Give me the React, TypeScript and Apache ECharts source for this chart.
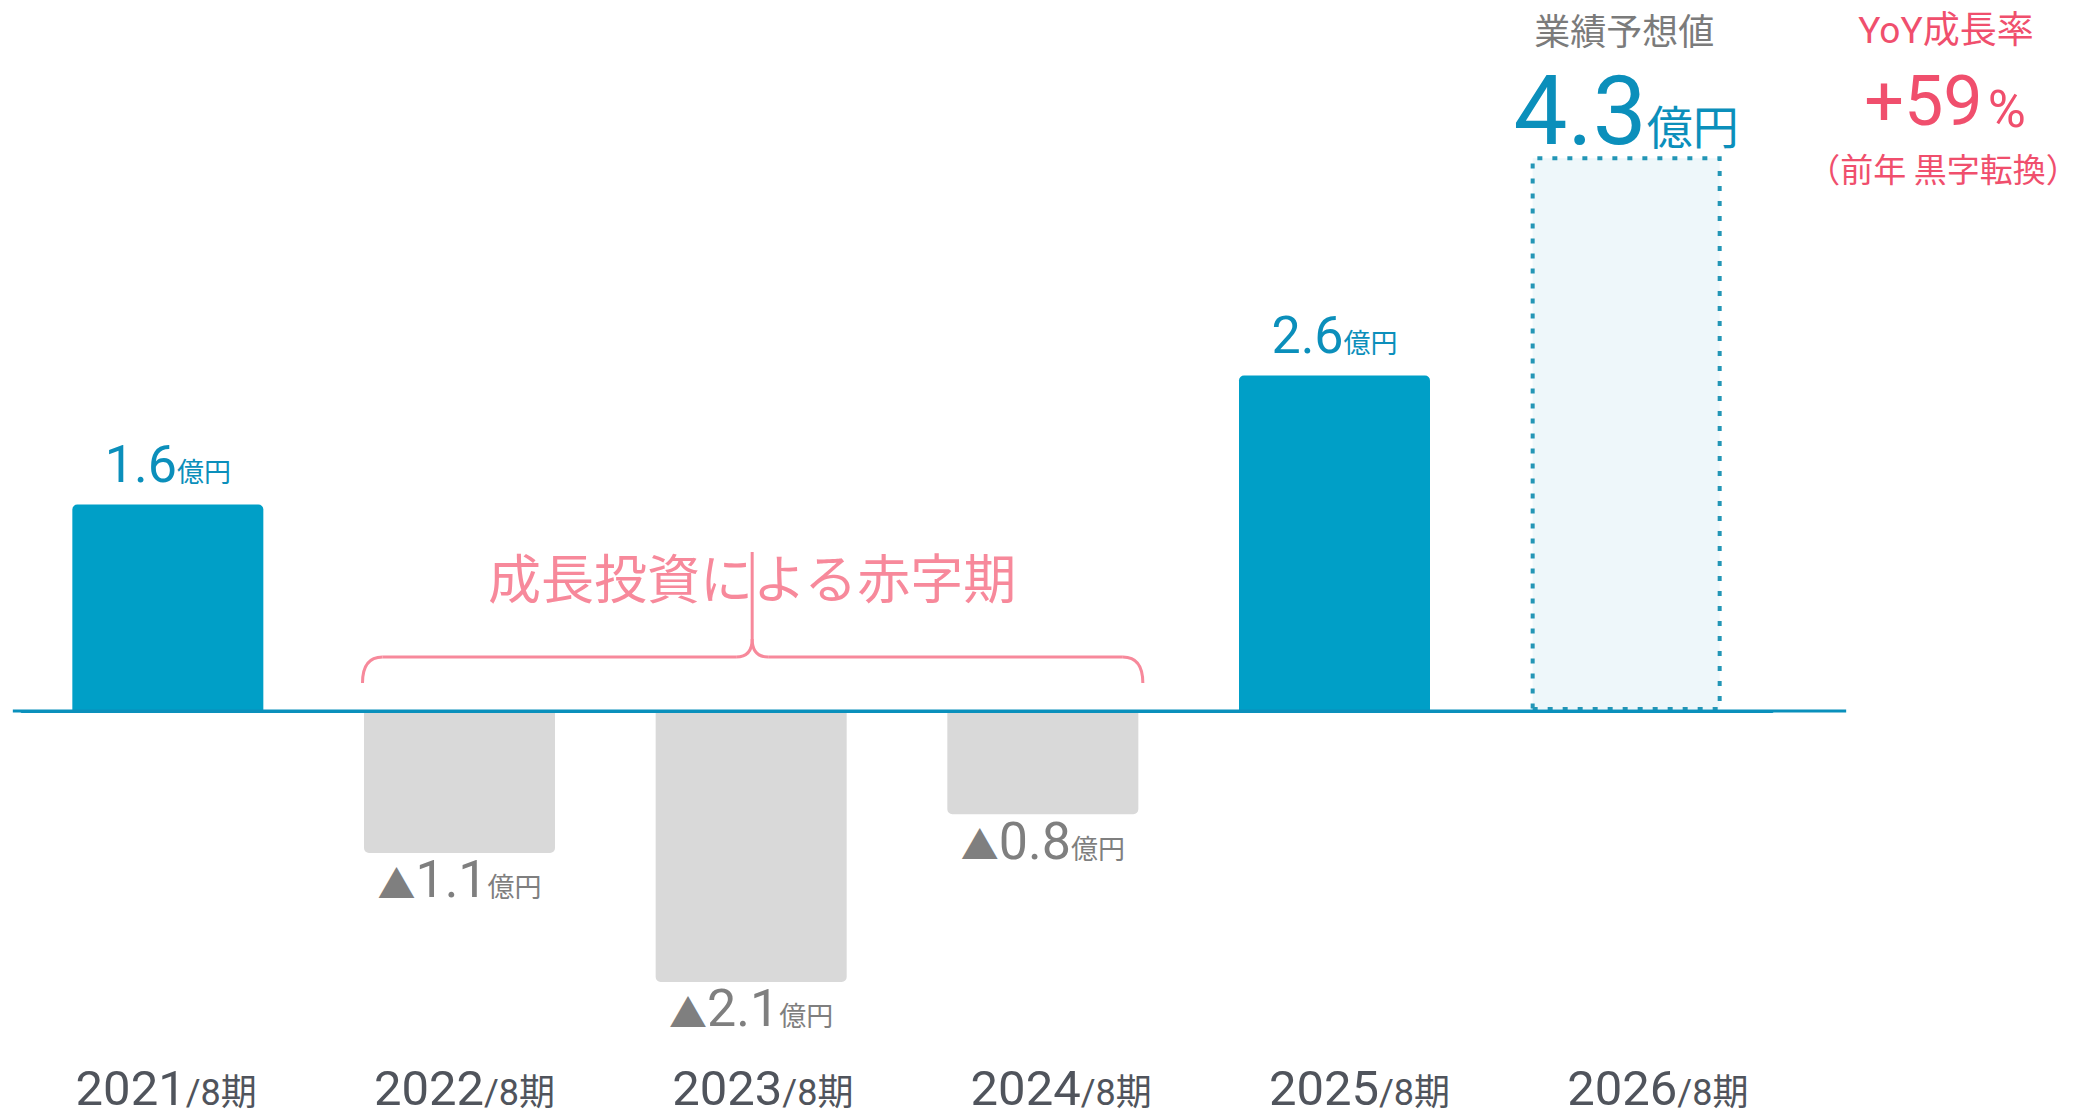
import React, { useEffect, useRef } from 'react';
import * as echarts from 'echarts';

// ---- data ----
const categories = ['2021', '2022', '2023', '2024', '2025', '2026'];
const periodSuffix = '/8期';
const operatingProfit = [1.6, -1.1, -2.1, -0.8, 2.6, 4.3];
const isForecast = [false, false, false, false, false, true];
const unitLabel = '億円';
const forecastTitle = '業績予想値';
const yoyTitle = 'YoY成長率';
const yoyValue = '+59';
const yoyUnit = '%';
const yoyNote = '（前年 黒字転換）';
const deficitNote = '成長投資による赤字期';
const deficitRange = [1, 3];

// ---- styles ----
const FONT = "Roboto, 'Noto Sans CJK JP', sans-serif";
const JP_FONT = "'Noto Sans CJK JP', Roboto, sans-serif";
const BLUE = '#009fc7';
const LABEL_BLUE = '#0b8fbb';
const GRAY_BAR = '#d9d9d9';
const GRAY_TEXT = '#7f7f7f';
const AXIS = '#0a90bc';
const PINK = '#f7899b';
const RED = '#f04f6d';
const CAT = '#50545c';
const BAR_W = 191;

function buildBarData() {
  return operatingProfit.map((v, i) => {
    if (isForecast[i]) {
      return {
        value: v,
        itemStyle: {
          color: '#eef7fa',
          borderColor: '#2396b6',
          borderWidth: 4,
          borderType: [5, 10],
        },
        label: {
          show: true,
          position: 'top',
          distance: -3,
          formatter: `{v|${v.toFixed(1)}}{u|${unitLabel}}`,
          rich: {
            v: { fontSize: 96, lineHeight: 96, color: LABEL_BLUE, fontFamily: FONT, verticalAlign: 'bottom' },
            u: { fontSize: 46, color: LABEL_BLUE, fontFamily: FONT, verticalAlign: 'bottom', padding: [0, 0, 8, 0] },
          },
        },
      };
    }
    if (v >= 0) {
      return {
        value: v,
        itemStyle: { color: BLUE, borderRadius: [5, 5, 0, 0] },
        label: {
          show: true,
          position: 'top',
          distance: 14,
          formatter: `{v|${v.toFixed(1)}}{u|${unitLabel}}`,
          rich: {
            v: { fontSize: 52, lineHeight: 52, color: LABEL_BLUE, fontFamily: FONT, verticalAlign: 'bottom' },
            u: { fontSize: 27, color: LABEL_BLUE, fontFamily: FONT, verticalAlign: 'bottom', padding: [0, 0, 4, 0] },
          },
        },
      };
    }
    return {
      value: v,
      itemStyle: { color: GRAY_BAR, borderRadius: [0, 0, 5, 5] },
      label: {
        show: true,
        position: 'bottom',
        distance: 1,
        formatter: `{t|▲}{v|${Math.abs(v).toFixed(1)}}{u|${unitLabel}}`,
        rich: {
          t: { fontSize: 38, color: GRAY_TEXT, fontFamily: FONT, verticalAlign: 'bottom', padding: [0, 0, 2, 0] },
          v: { fontSize: 52, lineHeight: 52, color: GRAY_TEXT, fontFamily: FONT, verticalAlign: 'bottom' },
          u: { fontSize: 27, color: GRAY_TEXT, fontFamily: FONT, verticalAlign: 'bottom', padding: [0, 0, 4, 0] },
        },
      },
    };
  });
}

export default function App() {
  const ref = useRef<HTMLDivElement>(null);

  useEffect(() => {
    document.body.style.margin = '0';
    const chart = echarts.init(ref.current as HTMLDivElement, null, { renderer: 'svg' });
    const option: any = {
      animation: false,
      backgroundColor: '#ffffff',
      grid: [
        { left: 22, right: 308, top: 66, bottom: 81.5, containLabel: false },
        { left: 17, right: 273, top: 66, bottom: 81.5, containLabel: false },
      ],
      xAxis: [
        {
          type: 'category',
          gridIndex: 0,
          data: categories,
          z: 10,
          axisLine: { show: true, onZero: true, lineStyle: { color: AXIS, width: 3 } },
          axisTick: { show: false },
          axisLabel: { show: false },
          splitLine: { show: false },
        },
        {
          type: 'category',
          gridIndex: 1,
          data: categories,
          position: 'bottom',
          axisLine: { show: false, onZero: false },
          axisTick: { show: false },
          splitLine: { show: false },
          axisLabel: {
            show: true,
            margin: 30,
            interval: 0,
            formatter: (val: string) => `{y|${val}}{p|${periodSuffix}}`,
            rich: {
              y: { fontSize: 49, lineHeight: 20, color: CAT, fontFamily: FONT, verticalAlign: 'top' },
              p: { fontSize: 36, lineHeight: 20, color: CAT, fontFamily: FONT, verticalAlign: 'top', padding: [11, 0, 0, 0] },
            },
          },
        },
      ],
      yAxis: [
        { type: 'value', gridIndex: 0, min: -2.5, max: 5, show: false, splitLine: { show: false } },
        { type: 'value', gridIndex: 1, min: -2.5, max: 5, show: false, splitLine: { show: false } },
      ],
      series: [
        {
          type: 'bar',
          xAxisIndex: 0,
          yAxisIndex: 0,
          barWidth: BAR_W,
          data: buildBarData(),
        },
      ],
    };
    chart.setOption(option);

    const zeroY = chart.convertToPixel({ yAxisIndex: 0 }, 0) as number;
    const cx = (i: number) => chart.convertToPixel({ xAxisIndex: 0 }, categories[i]) as number;

    const first = cx(0);
    const last = cx(categories.length - 1);
    const L = cx(deficitRange[0]) - 97;
    const R = cx(deficitRange[1]) + 100;
    const C = (cx(deficitRange[0]) + cx(deficitRange[1])) / 2 + 1;
    const yh = zeroY - 54;
    const yb = zeroY - 28;
    const yt = zeroY - 159;
    const braceStyle = { stroke: PINK, lineWidth: 3, fill: 'none' };

    const graphic: any[] = [
      {
        type: 'line',
        z: 10,
        shape: { x1: first - 155, y1: zeroY, x2: last + 220, y2: zeroY },
        style: { stroke: AXIS, lineWidth: 3 },
      },
      // brace
      { type: 'bezierCurve', z: 5, shape: { x1: L, y1: yb, cpx1: L, cpy1: yh, x2: L + 20, y2: yh }, style: braceStyle },
      { type: 'line', z: 5, shape: { x1: L + 20, y1: yh, x2: C - 16, y2: yh }, style: braceStyle },
      { type: 'bezierCurve', z: 5, shape: { x1: C - 16, y1: yh, cpx1: C, cpy1: yh, x2: C, y2: yh - 18 }, style: braceStyle },
      { type: 'bezierCurve', z: 5, shape: { x1: C + 16, y1: yh, cpx1: C, cpy1: yh, x2: C, y2: yh - 18 }, style: braceStyle },
      { type: 'line', z: 5, shape: { x1: C + 16, y1: yh, x2: R - 20, y2: yh }, style: braceStyle },
      { type: 'bezierCurve', z: 5, shape: { x1: R - 20, y1: yh, cpx1: R, cpy1: yh, x2: R, y2: yb }, style: braceStyle },
      { type: 'line', z: 5, shape: { x1: C, y1: yh - 18, x2: C, y2: yt }, style: braceStyle },
      {
        type: 'text',
        z: 6,
        style: {
          text: deficitNote,
          x: C,
          y: zeroY - 135,
          align: 'center',
          verticalAlign: 'middle',
          fontSize: 53,
          fontFamily: JP_FONT,
          fill: PINK,
        },
      },
      // forecast header
      {
        type: 'text',
        style: {
          text: forecastTitle,
          x: last - 2,
          y: 29,
          align: 'center',
          verticalAlign: 'middle',
          fontSize: 36,
          fontFamily: JP_FONT,
          fill: '#7b7b7b',
        },
      },
      // YoY block
      {
        type: 'text',
        style: {
          text: yoyTitle,
          x: 1946,
          y: 30,
          align: 'center',
          verticalAlign: 'middle',
          fontSize: 37,
          fontFamily: FONT,
          fill: RED,
        },
      },
      {
        type: 'text',
        style: {
          text: `{a|${yoyValue}}{b|${yoyUnit}}`,
          x: 1945,
          y: 136,
          align: 'center',
          verticalAlign: 'bottom',
          rich: {
            a: { fontSize: 70, lineHeight: 70, fontFamily: FONT, fill: RED, verticalAlign: 'bottom' },
            b: { fontSize: 52, lineHeight: 62, fontFamily: FONT, fill: RED, verticalAlign: 'bottom', padding: [0, 0, 0, 5] },
          },
        },
      },
      {
        type: 'text',
        style: {
          text: yoyNote,
          x: 1943,
          y: 168,
          align: 'center',
          verticalAlign: 'middle',
          fontSize: 33,
          fontFamily: JP_FONT,
          fill: RED,
        },
      },
    ];
    chart.setOption({ graphic });

    return () => {
      chart.dispose();
    };
  }, []);

  return <div ref={ref} style={{ width: 2080, height: 1115 }} />;
}
